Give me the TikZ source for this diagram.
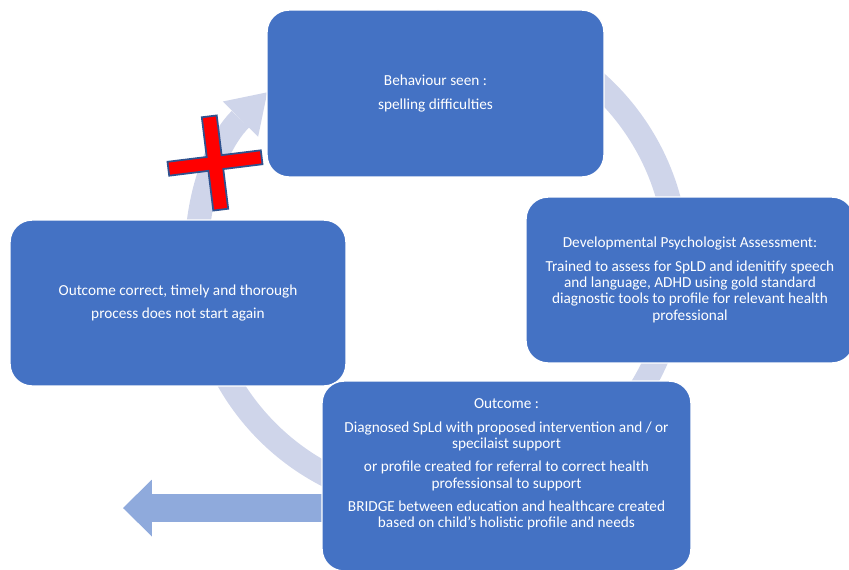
\documentclass[tikz,border=0pt]{standalone}
\usepackage{fontspec}
\setmainfont{Carlito}
\usetikzlibrary{arrows.meta,backgrounds,calc}
\definecolor{boxblue}{HTML}{4472C4}
\definecolor{ringblue}{HTML}{CFD5EA}
\definecolor{exitblue}{HTML}{8FAADC}
\definecolor{crossedge}{HTML}{2F528F}

\begin{document}
\begin{tikzpicture}[x=0.02cm, y=-0.02cm,
    stagebox/.style={rectangle, rounded corners=0.44cm, fill=boxblue, draw=white,
        line width=0.8pt, inner sep=0pt, text=white, align=center,
        font=\fontsize{8.7}{9.3}\selectfont},
    stagetext/.style={text=white, align=center, font=\fontsize{8.7}{9.3}\selectfont},
    ring/.style={draw=ringblue, line width=0.48cm}]
    \useasboundingbox (0,0) rectangle (849,569);

    % Stage 1 (top)
    \node[stagebox, minimum width=6.74cm, minimum height=3.34cm] (seen) at (435.5,93.5)
        {Behaviour seen :\\[4pt] spelling difficulties};

    % Stage 2 (right)
    \node[stagebox, minimum width=6.56cm, minimum height=3.32cm] (assess) at (690,280)
        {Developmental Psychologist Assessment:\\[4pt]
         Trained to assess for SpLD and idenitify speech\\
         and language, ADHD using gold standard\\
         diagnostic tools to profile for relevant health\\
         professional};

    % Stage 4 (left)
    \node[stagebox, minimum width=6.72cm, minimum height=3.32cm] (final) at (178,303)
        {Outcome correct, timely and thorough\\[4pt] process does not start again};

    % Stage 3 (bottom)
    \node[stagebox, minimum width=7.38cm, minimum height=3.8cm] (outcome) at (506.5,476) {};
    \node[stagetext] (outcomeText) at (506.5,464.5)
        {Outcome :\\[4pt]
         Diagnosed SpLd with proposed intervention and / or\\
         specilaist support\\[4pt]
         or profile created for referral to correct health\\
         professionsal to support\\[4pt]
         BRIDGE between education and healthcare created\\
         based on child's holistic profile and needs};

    \begin{scope}[on background layer]
        % Cycle ring behind the stages
        \coordinate (ringC) at (437,262);
        \draw[ring, -{Triangle[length=0.76cm, width=1cm, line width=0pt]}]
            ($(ringC)+(165:240)$) arc[start angle=165, end angle=225, radius=240];
        \draw[ring] ($(ringC)+(235:240)$) arc[start angle=235, end angle=525, radius=240];

        % Exit arrow out of the outcome
        \coordinate (exitTip) at (123,508);
        \draw[exitblue, line width=0.56cm, -{Triangle[length=0.58cm, width=1.14cm, line width=0pt]}]
            ($(outcome.west |- exitTip)+(20,0)$) -- (exitTip);
    \end{scope}

    % Red cross over the return arrow
    \begin{scope}[shift={(215,163)}, rotate=7]
        \draw[fill=red, draw=crossedge, line width=1pt]
            (-7.5,-47) -- (7.5,-47) -- (7.5,-7) -- (47,-7) -- (47,7) -- (7.5,7) -- (7.5,47)
            -- (-7.5,47) -- (-7.5,7) -- (-47,7) -- (-47,-7) -- (-7.5,-7) -- cycle;
    \end{scope}
\end{tikzpicture}
\end{document}
